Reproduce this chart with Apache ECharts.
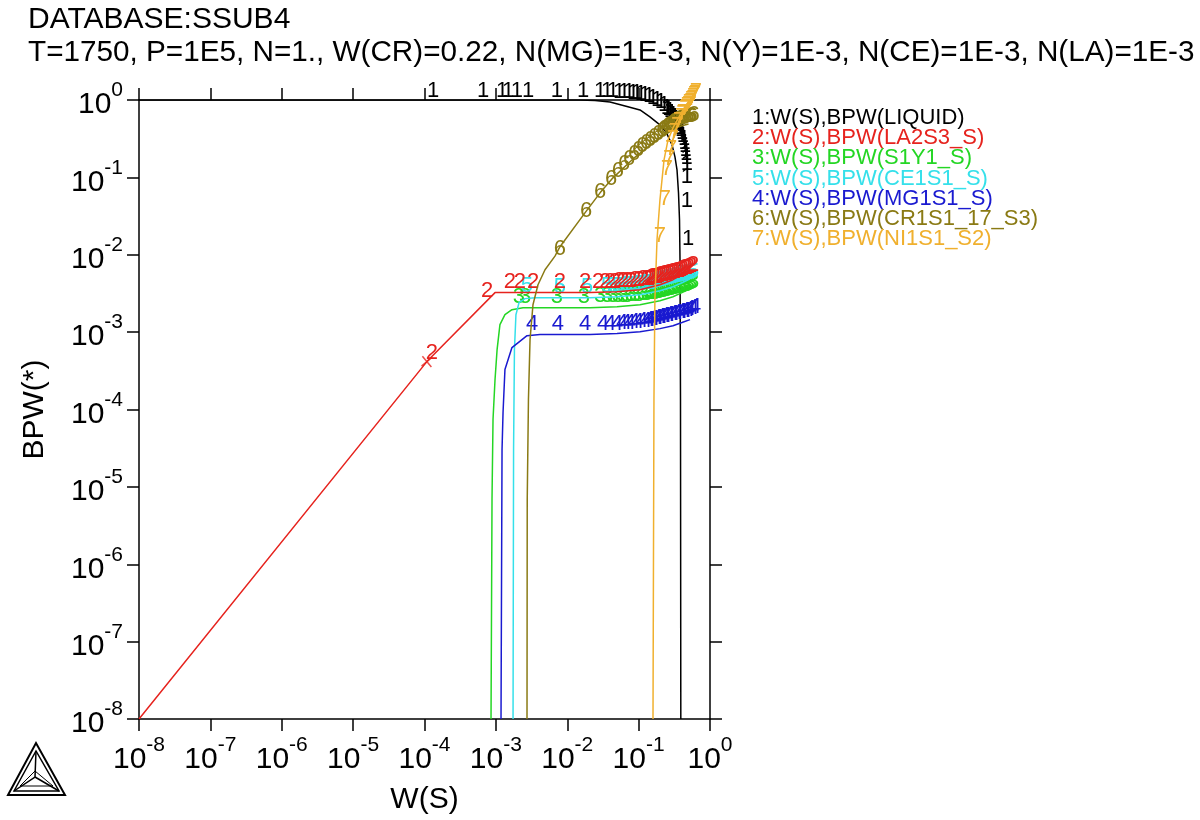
<!DOCTYPE html>
<html>
<head>
<meta charset="utf-8">
<script src="https://cdn.jsdelivr.net/npm/echarts@6/dist/echarts.min.js"></script>
<style>
  html, body { margin: 0; padding: 0; background: #ffffff; }
  #chart { width: 1200px; height: 820px; }
</style>
</head>
<body>
<div id="chart"></div>
<script>
// Phase amounts (BPW) versus sulfur mass fraction W(S), log-log.
const FONT = '"Liberation Sans", Arial, sans-serif';

const titleLines = [
  'DATABASE:SSUB4',
  'T=1750, P=1E5, N=1., W(CR)=0.22, N(MG)=1E-3, N(Y)=1E-3, N(CE)=1E-3, N(LA)=1E-3'
];
const xName = 'W(S)';
const yName = 'BPW(*)';
const xRange = [1e-8, 1];
const yRange = [1e-8, 1];

const legendLabels = [
  '1:W(S),BPW(LIQUID)',
  '2:W(S),BPW(LA2S3_S)',
  '3:W(S),BPW(S1Y1_S)',
  '5:W(S),BPW(CE1S1_S)',
  '4:W(S),BPW(MG1S1_S)',
  '6:W(S),BPW(CR1S1_17_S3)',
  '7:W(S),BPW(NI1S1_S2)'
];

// ---- curve 1: LIQUID ----
const liquidLine = [
  [1e-8, 1], [0.0151, 1], [0.0245, 0.985], [0.0397, 0.942], [0.0687, 0.825],
  [0.1045, 0.743], [0.144, 0.604], [0.199, 0.476], [0.242, 0.387], [0.294, 0.263],
  [0.323, 0.184], [0.345, 0.125], [0.362, 0.063], [0.374, 0.0283], [0.380, 8.6e-3],
  [0.386, 1.35e-4], [0.39, 1e-8]
];
const liquidMarks = [
  [1.12e-4, 1], [5.62e-4, 1], [1.04e-3, 1], [1.26e-3, 1], [1.68e-3, 1], [2.40e-3, 1],
  [6.11e-3, 1], [0.0142, 1], [0.0245, 1], [0.0307, 1], [0.0372, 1], [0.0452, 0.971],
  [0.0531, 0.971], [0.0624, 0.971], [0.0710, 0.942], [0.0807, 0.942], [0.0918, 0.915],
  [0.1045, 0.888], [0.119, 0.862], [0.135, 0.812], [0.154, 0.765], [0.175, 0.721],
  [0.193, 0.660], [0.212, 0.604], [0.223, 0.58], [0.234, 0.552], [0.246, 0.52],
  [0.258, 0.490], [0.271, 0.46], [0.284, 0.435], [0.293, 0.41], [0.303, 0.387],
  [0.313, 0.36], [0.323, 0.333], [0.334, 0.31], [0.345, 0.287], [0.356, 0.265],
  [0.368, 0.240], [0.374, 0.215], [0.380, 0.195], [0.386, 0.175], [0.393, 0.154],
  [0.40, 0.135], [0.405, 0.114], [0.405, 0.0777], [0.405, 0.0381], [0.419, 0.0123]
];

// ---- curve 2: LA2S3_S ----
const la2s3Line = [
  [1e-8, 1e-8], [1.08e-4, 4.16e-4], [9.73e-4, 3.24e-3], [0.0208, 3.24e-3], [0.0498, 3.33e-3],
  [0.1045, 3.53e-3], [0.199, 4.10e-3], [0.303, 4.76e-3], [0.405, 5.52e-3], [0.525, 6.40e-3]
];
const la2s3Cross = [[1.08e-4, 4.16e-4]];
const la2s3Marks = [
  [1.08e-4, 4.16e-4], [6.4e-4, 2.63e-3], [1.34e-3, 3.43e-3], [1.85e-3, 3.43e-3],
  [2.82e-3, 3.43e-3], [6.73e-3, 3.43e-3], [0.0151, 3.43e-3], [0.0230, 3.43e-3],
  [0.0288, 3.43e-3], [0.0338, 3.43e-3], [0.0397, 3.43e-3], [0.0452, 3.53e-3],
  [0.0514, 3.53e-3], [0.0585, 3.53e-3], [0.0665, 3.53e-3], [0.0757, 3.64e-3],
  [0.0861, 3.64e-3], [0.098, 3.75e-3], [0.111, 3.75e-3], [0.119, 3.75e-3],
  [0.127, 3.86e-3], [0.135, 3.9e-3], [0.144, 3.98e-3], [0.154, 4.0e-3],
  [0.164, 4.10e-3], [0.175, 4.15e-3], [0.187, 4.23e-3], [0.199, 4.3e-3],
  [0.212, 4.35e-3], [0.227, 4.4e-3], [0.242, 4.49e-3], [0.258, 4.55e-3],
  [0.275, 4.62e-3], [0.294, 4.7e-3], [0.313, 4.76e-3], [0.334, 4.9e-3],
  [0.356, 5.05e-3], [0.380, 5.1e-3], [0.405, 5.20e-3], [0.432, 5.35e-3],
  [0.461, 5.52e-3], [0.492, 5.7e-3]
];

// ---- curve 3: S1Y1_S ----
const s1y1Line = [
  [8.55e-4, 1e-8], [8.83e-4, 6.9e-6], [9.12e-4, 7.43e-5], [9.73e-4, 2.44e-4], [1.04e-3, 5.94e-4],
  [1.14e-3, 1.25e-3], [1.34e-3, 1.68e-3], [1.68e-3, 1.95e-3], [2.40e-3, 2.07e-3],
  [0.0208, 2.07e-3], [0.0498, 2.13e-3], [0.1045, 2.26e-3], [0.199, 2.55e-3],
  [0.303, 2.87e-3], [0.405, 3.24e-3], [0.525, 3.64e-3]
];
const s1y1Marks = [
  [1.79e-3, 2.20e-3], [2.18e-3, 2.20e-3], [6.11e-3, 2.20e-3], [0.0146, 2.20e-3],
  [0.0245, 2.26e-3], [0.0307, 2.26e-3], [0.0372, 2.26e-3], [0.0437, 2.26e-3],
  [0.0514, 2.26e-3], [0.0585, 2.26e-3], [0.0665, 2.33e-3], [0.0757, 2.33e-3],
  [0.0861, 2.33e-3], [0.098, 2.40e-3], [0.111, 2.40e-3], [0.119, 2.44e-3],
  [0.127, 2.48e-3], [0.135, 2.48e-3], [0.144, 2.48e-3], [0.154, 2.52e-3],
  [0.164, 2.55e-3], [0.175, 2.6e-3], [0.187, 2.63e-3], [0.199, 2.67e-3],
  [0.212, 2.71e-3], [0.227, 2.75e-3], [0.242, 2.79e-3], [0.258, 2.83e-3],
  [0.275, 2.87e-3], [0.294, 2.92e-3], [0.313, 2.96e-3], [0.334, 3.0e-3],
  [0.356, 3.05e-3], [0.380, 3.1e-3], [0.405, 3.14e-3], [0.432, 3.22e-3],
  [0.461, 3.33e-3], [0.492, 3.4e-3]
];

// ---- curve 5: CE1S1_S ----
const ce1s1Line = [
  [1.74e-3, 1e-8], [1.77e-3, 3.05e-5], [1.82e-3, 5.94e-4], [1.91e-3, 1.68e-3], [2.11e-3, 2.40e-3],
  [2.56e-3, 2.71e-3], [3.53e-3, 2.79e-3], [0.0208, 2.79e-3], [0.0498, 2.87e-3],
  [0.1045, 3.05e-3], [0.199, 3.43e-3], [0.303, 3.86e-3], [0.405, 4.35e-3], [0.525, 4.90e-3]
];
const ce1s1Marks = [
  [2.32e-3, 3.05e-3], [6.73e-3, 2.96e-3], [0.0161, 2.96e-3], [0.0307, 3.05e-3],
  [0.0372, 3.05e-3], [0.0437, 3.05e-3], [0.0514, 3.05e-3], [0.0585, 3.14e-3],
  [0.0665, 3.14e-3], [0.0757, 3.14e-3], [0.0861, 3.24e-3], [0.098, 3.24e-3],
  [0.111, 3.33e-3], [0.119, 3.3e-3], [0.127, 3.33e-3], [0.135, 3.35e-3],
  [0.144, 3.43e-3], [0.154, 3.48e-3], [0.164, 3.53e-3], [0.175, 3.58e-3],
  [0.187, 3.64e-3], [0.199, 3.7e-3], [0.212, 3.75e-3], [0.227, 3.8e-3],
  [0.242, 3.86e-3], [0.258, 3.92e-3], [0.275, 3.98e-3], [0.294, 4.05e-3],
  [0.313, 4.10e-3], [0.334, 4.15e-3], [0.356, 4.23e-3], [0.380, 4.3e-3],
  [0.405, 4.35e-3], [0.432, 4.4e-3], [0.461, 4.49e-3], [0.492, 4.6e-3]
];

// ---- curve 4: MG1S1_S ----
const mg1s1Line = [
  [1.18e-3, 1e-8], [1.22e-3, 3.05e-5], [1.26e-3, 9.15e-5], [1.34e-3, 3.28e-4], [1.68e-3, 6.31e-4],
  [2.73e-3, 9.0e-4], [4.15e-3, 9.29e-4], [0.0208, 9.29e-4], [0.0498, 9.6e-4],
  [0.1045, 1.01e-3], [0.199, 1.11e-3], [0.303, 1.21e-3], [0.405, 1.33e-3], [0.525, 1.45e-3]
];
const mg1s1Marks = [
  [2.73e-3, 9.86e-4], [6.31e-3, 9.86e-4], [0.0151, 9.86e-4], [0.0270, 9.86e-4],
  [0.0338, 9.86e-4], [0.0424, 9.86e-4], [0.0498, 1.01e-3], [0.0566, 1.01e-3],
  [0.0644, 1.01e-3], [0.0733, 1.045e-3], [0.0834, 1.045e-3], [0.0949, 1.08e-3],
  [0.108, 1.08e-3], [0.119, 1.10e-3], [0.123, 1.11e-3], [0.135, 1.12e-3],
  [0.140, 1.14e-3], [0.154, 1.16e-3], [0.159, 1.18e-3], [0.175, 1.20e-3],
  [0.181, 1.21e-3], [0.199, 1.24e-3], [0.206, 1.25e-3], [0.227, 1.28e-3],
  [0.234, 1.29e-3], [0.258, 1.32e-3], [0.267, 1.33e-3], [0.294, 1.36e-3],
  [0.303, 1.37e-3], [0.334, 1.40e-3], [0.345, 1.41e-3], [0.380, 1.44e-3],
  [0.393, 1.45e-3], [0.432, 1.50e-3], [0.447, 1.54e-3], [0.492, 1.58e-3], [0.525, 1.62e-3]
];

// ---- curve 6: CR1S1_17_S3 ----
const cr1s1Line = [
  [2.73e-3, 1e-8], [2.75e-3, 6.9e-6], [2.86e-3, 1.35e-4], [3.01e-3, 8.0e-4], [3.31e-3, 2.26e-3],
  [3.89e-3, 4.10e-3], [4.88e-3, 6.40e-3], [6.73e-3, 9.6e-3], [7.91e-3, 1.27e-2],
  [0.0177, 0.0348], [0.0288, 0.0631], [0.0437, 0.0986], [0.0834, 0.173], [0.159, 0.279],
  [0.234, 0.364], [0.303, 0.422], [0.393, 0.462], [0.5, 0.49]
];
const cr1s1Marks = [
  [6.73e-3, 9.15e-3], [0.0156, 0.0283], [0.0245, 0.0498], [0.0349, 0.0732], [0.0437, 0.0929],
  [0.0531, 0.114], [0.0624, 0.133], [0.0733, 0.154], [0.0834, 0.173], [0.0949, 0.195],
  [0.108, 0.213], [0.123, 0.233], [0.140, 0.255], [0.159, 0.279], [0.181, 0.305],
  [0.194, 0.32], [0.206, 0.333], [0.22, 0.35], [0.234, 0.364], [0.25, 0.38],
  [0.267, 0.398], [0.285, 0.41], [0.303, 0.422], [0.325, 0.435], [0.345, 0.449],
  [0.37, 0.455], [0.393, 0.462], [0.42, 0.47], [0.447, 0.476], [0.47, 0.48], [0.5, 0.49]
];

// ---- curve 7: NI1S1_S2 ----
const ni1s1Line = [
  [0.159, 1e-8], [0.164, 1.35e-4], [0.169, 2.63e-3], [0.181, 0.0156], [0.199, 0.0513],
  [0.227, 0.168], [0.258, 0.305], [0.303, 0.435], [0.38, 0.64], [0.461, 0.862], [0.525, 1.0]
];
const ni1s1Marks = [
  [0.169, 0.01346], [0.199, 0.0404], [0.212, 0.0986], [0.227, 0.133], [0.242, 0.179],
  [0.258, 0.240], [0.275, 0.296], [0.294, 0.353], [0.313, 0.410], [0.334, 0.462],
  [0.35, 0.50], [0.356, 0.520], [0.380, 0.586], [0.39, 0.61], [0.405, 0.640],
  [0.42, 0.67], [0.432, 0.700], [0.45, 0.73], [0.461, 0.765], [0.48, 0.80],
  [0.492, 0.837], [0.51, 0.88], [0.525, 0.915], [0.54, 0.96]
];

// curve tag -> colour
const curveColors = {
  '1': '#000000', '2': '#e6231e', '3': '#24d624', '5': '#35e0ea',
  '4': '#1a1ad0', '6': '#8a7a14', '7': '#f0b02e'
};

// drawing order (later ones on top)
const curves = [
  { tag: '1', line: liquidLine, marks: liquidMarks },
  { tag: '3', line: s1y1Line, marks: s1y1Marks },
  { tag: '5', line: ce1s1Line, marks: ce1s1Marks },
  { tag: '4', line: mg1s1Line, marks: mg1s1Marks },
  { tag: '2', line: la2s3Line, marks: la2s3Marks },
  { tag: '6', line: cr1s1Line, marks: cr1s1Marks },
  { tag: '7', line: ni1s1Line, marks: ni1s1Marks }
];

const series = [];
curves.forEach(function (c, i) {
  const col = curveColors[c.tag];
  series.push({
    type: 'line', data: c.line, showSymbol: false, silent: true, animation: false,
    lineStyle: { color: col, width: 1.5 }, z: 2 + i * 2
  });
  series.push({
    type: 'scatter', data: c.marks, symbolSize: 1, silent: true, animation: false, clip: false,
    itemStyle: { color: 'rgba(0,0,0,0)' },
    label: {
      show: true, formatter: c.tag, position: 'inside', offset: [5, -9],
      color: col, opacity: 1, fontSize: 22, fontFamily: FONT
    },
    z: 3 + i * 2
  });
});
// the "+" point on the LA2S3 branch
series.push({
  type: 'scatter', data: la2s3Cross, silent: true, animation: false,
  symbol: 'path://M5,0 L5,10 M0,5 L10,5', symbolSize: 14, symbolRotate: 40,
  itemStyle: { color: 'none', borderColor: curveColors['2'], borderWidth: 1.5 }, z: 20
});

function powLabel(v) {
  const e = Math.round(Math.log10(v));
  return '{b|10}{s|' + e + '}';
}
const labelRich = {
  b: { fontSize: 30, fontFamily: FONT, color: '#000', lineHeight: 40, verticalAlign: 'bottom' },
  s: { fontSize: 21, fontFamily: FONT, color: '#000', lineHeight: 40, verticalAlign: 'top' }
};
const axisLineStyle = { color: '#000', width: 1.5 };

const chart = echarts.init(document.getElementById('chart'), null, { renderer: 'canvas' });
chart.setOption({
  backgroundColor: '#ffffff',
  animation: false,
  grid: { left: 139, right: 490, top: 100, bottom: 100, containLabel: false },
  xAxis: [
    {
      type: 'log', logBase: 10, min: xRange[0], max: xRange[1], interval: 1, position: 'bottom',
      axisLine: { show: true, lineStyle: axisLineStyle },
      axisTick: { show: true, inside: false, length: 12, lineStyle: axisLineStyle },
      minorTick: { show: false }, splitLine: { show: false },
      axisLabel: { formatter: powLabel, rich: labelRich, margin: 16 },
      name: xName, nameLocation: 'middle', nameGap: 66,
      nameTextStyle: { fontSize: 30, fontFamily: FONT, color: '#000' }
    },
    {
      type: 'log', logBase: 10, min: xRange[0], max: xRange[1], interval: 1, position: 'top',
      axisLine: { show: true, lineStyle: axisLineStyle },
      axisTick: { show: true, inside: false, length: 12, lineStyle: axisLineStyle },
      minorTick: { show: false }, splitLine: { show: false }, axisLabel: { show: false }
    }
  ],
  yAxis: [
    {
      type: 'log', logBase: 10, min: yRange[0], max: yRange[1], interval: 1, position: 'left',
      axisLine: { show: true, lineStyle: axisLineStyle },
      axisTick: { show: true, inside: false, length: 12, lineStyle: axisLineStyle },
      minorTick: { show: false }, splitLine: { show: false },
      axisLabel: { formatter: powLabel, rich: labelRich, margin: 16 },
      name: yName, nameLocation: 'middle', nameGap: 89,
      nameTextStyle: { fontSize: 30, fontFamily: FONT, color: '#000' }
    },
    {
      type: 'log', logBase: 10, min: yRange[0], max: yRange[1], interval: 1, position: 'right',
      axisLine: { show: true, lineStyle: axisLineStyle },
      axisTick: { show: true, inside: false, length: 12, lineStyle: axisLineStyle },
      minorTick: { show: false }, splitLine: { show: false }, axisLabel: { show: false }
    }
  ],
  series: series,
  graphic: [
    { type: 'text', x: 28, y: 20, silent: true,
      style: { text: titleLines[0], fontSize: 30, fontFamily: FONT, fill: '#000', align: 'left', verticalAlign: 'middle' } },
    { type: 'text', x: 28, y: 53, silent: true,
      style: { text: titleLines[1], fontSize: 29.7, fontFamily: FONT, fill: '#000', align: 'left', verticalAlign: 'middle' } }
  ].concat(legendLabels.map(function (t, i) {
    const tag = t.charAt(0);
    return { type: 'text', x: 752, y: 118 + i * 20.2, silent: true,
      style: { text: t, fontSize: 22, fontFamily: FONT, fill: curveColors[tag], align: 'left', verticalAlign: 'middle' } };
  })).concat([
    // program logo, lower left
    { type: 'group', silent: true, children: [
      { type: 'polygon', shape: { points: [[8, 795], [36, 743], [65, 795]] }, style: { fill: 'none', stroke: '#000', lineWidth: 2 } },
      { type: 'polygon', shape: { points: [[14, 791], [36, 751], [59, 791]] }, style: { fill: 'none', stroke: '#000', lineWidth: 1.5 } },
      { type: 'polyline', shape: { points: [[36, 751], [35, 777], [14, 791]] }, style: { fill: 'none', stroke: '#000', lineWidth: 1.5 } },
      { type: 'polyline', shape: { points: [[35, 777], [59, 791]] }, style: { fill: 'none', stroke: '#000', lineWidth: 1.5 } },
      { type: 'polyline', shape: { points: [[20, 786], [35, 771], [53, 786], [20, 786]] }, style: { fill: 'none', stroke: '#000', lineWidth: 1 } }
    ] }
  ])
});
</script>
</body>
</html>
